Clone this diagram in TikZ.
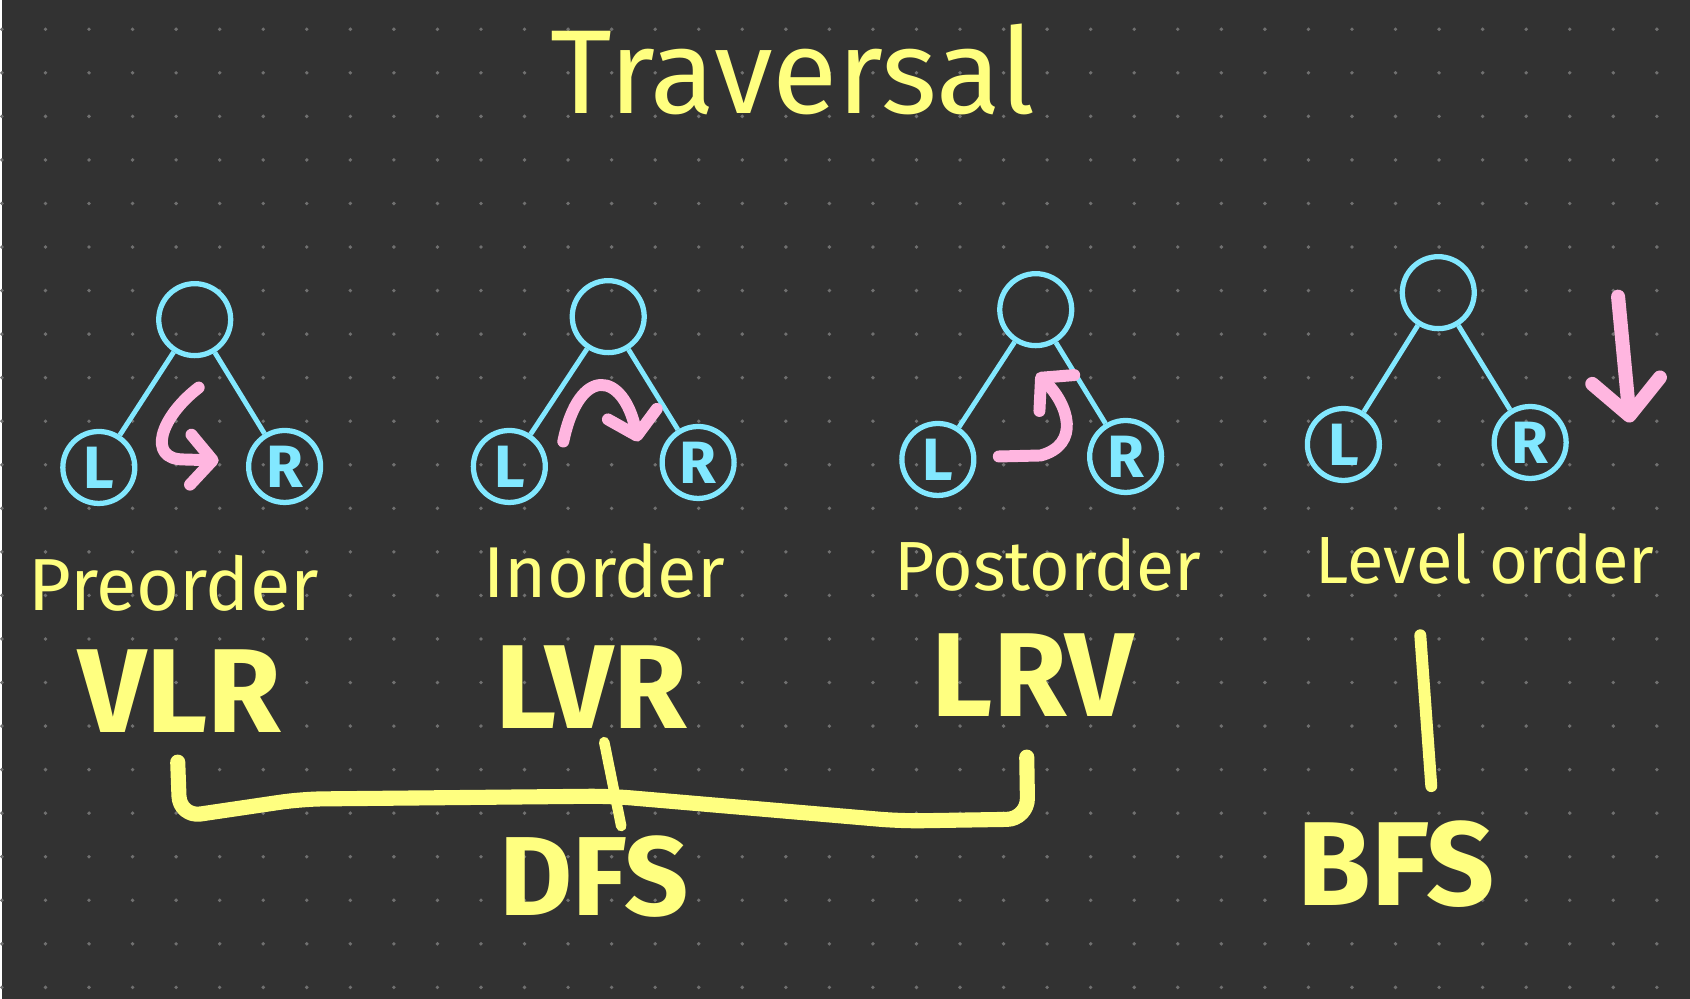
\documentclass[tikz,border=0pt]{standalone}
\usepackage{fontspec}
\setmainfont{Fira Sans}
\usetikzlibrary{arrows.meta}
\definecolor{board}{HTML}{323232}
\definecolor{dot}{HTML}{707070}
\definecolor{chalk}{HTML}{FFFF80}
\definecolor{sky}{HTML}{82E8FF}
\definecolor{pink}{HTML}{FFB6E0}

\begin{document}
\begin{tikzpicture}[x=0.01cm,y=-0.01cm,
  vertex/.style={circle,draw=sky,line width=1.5pt,minimum size=7.2mm,inner sep=0pt,text=sky,font=\bfseries\fontsize{17}{17}\selectfont},
  edge/.style={sky,line width=1.4pt},
  walk/.style={-{Straight Barb[length=2.2mm,width=5mm,round]},pink,line width=3.4pt,line cap=round,line join=round},
  ordername/.style={text=chalk,inner sep=0pt,font=\fontsize{#1}{#1}\selectfont},
  ordername/.default=21,
  ordercode/.style={text=chalk,inner sep=0pt,font=\bfseries\fontsize{#1}{#1}\selectfont},
  ordercode/.default=34,
  brace/.style={chalk,line width=4.3pt,line cap=round,line join=round}]
  % board
  \fill[board] (0,0) rectangle (1690,1000);
  \foreach \i in {0,...,38}
    \foreach \j in {0,...,22}
      \fill[dot] (\i*43.6,29.3+\j*43.6) circle[radius=0.55pt];

  \node[text=chalk,font=\fontsize{34}{34}\selectfont] (title) at (792,70) {Traversal};

  % preorder
  \node[vertex] (pre) at (193,320) {};
  \node[vertex] (preL) at (97,468) {L};
  \node[vertex] (preR) at (283,467) {R};
  \draw[edge] (pre)--(preL); \draw[edge] (pre)--(preR);
  \coordinate (preA) at (197,388); \coordinate (preB) at (217,461);
  \draw[walk] (preA) .. controls (158,418) and (145,460) .. (182,460) -- (preB);
  \node[ordername=21] (preName) at (172,584) {Preorder};
  \node[ordercode] (preCode) at (178,692) {VLR};

  % inorder
  \node[vertex] (in) at (607,317) {};
  \node[vertex] (inL) at (508,467) {L};
  \node[vertex] (inR) at (697,463) {R};
  \draw[edge] (in)--(inL); \draw[edge] (in)--(inR);
  \coordinate (inA) at (562,442); \coordinate (inB) at (637,442);
  \draw[walk] (inA) .. controls (578,365) and (622,372) .. (inB);
  \node[ordername=20.5] (inName) at (603,572) {Inorder};
  \node[ordercode] (inCode) at (590,688) {LVR};

  % postorder
  \node[vertex] (post) at (1035,310) {};
  \node[vertex] (postL) at (937,460) {L};
  \node[vertex] (postR) at (1125,457) {R};
  \draw[edge] (post)--(postL); \draw[edge] (post)--(postR);
  \coordinate (postA) at (998,457); \coordinate (postB) at (1036,374);
  \draw[walk] (postA) -- (1040,456) .. controls (1080,445) and (1068,405) .. (postB);
  \node[ordername=19.8] (postName) at (1047,565) {Postorder};
  \node[ordercode] (postCode) at (1032,676) {LRV};

  % level order
  \node[vertex] (lvl) at (1438,293) {};
  \node[vertex] (lvlL) at (1343,445) {L};
  \node[vertex] (lvlR) at (1530,443) {R};
  \draw[edge] (lvl)--(lvlL); \draw[edge] (lvl)--(lvlR);
  \coordinate (lvlA) at (1618,297); \coordinate (lvlB) at (1630,423);
  \draw[walk,line width=4pt,-{Straight Barb[length=3.5mm,width=6.8mm,round]}] (lvlA) -- (lvlB);
  \node[ordername=19] (lvlName) at (1485,560) {Level order};

  % dfs / bfs
  \draw[brace,rounded corners=6pt] (176,763) -- (178,818) -- (300,800) -- (609,797)
    -- (900,822) -- (1027,820) -- (1026,758);
  \draw[brace,line width=3pt] (603,743) -- (620,827);
  \node[ordercode=32] (dfs) at (593,878) {DFS};
  \draw[brace,line width=3.4pt] (1420,636) -- (1431,787);
  \node[ordercode=34] (bfs) at (1396,865) {BFS};
\end{tikzpicture}
\end{document}
